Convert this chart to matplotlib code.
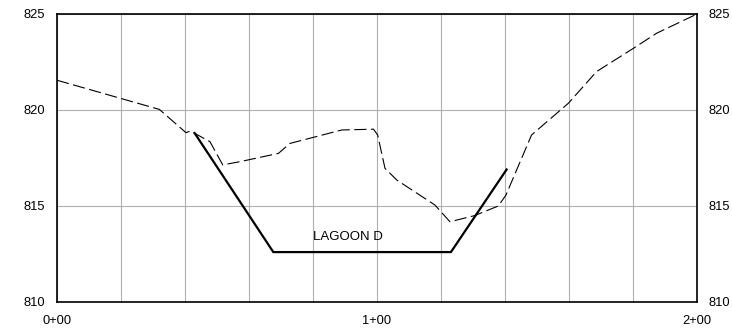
import numpy as np
import matplotlib
matplotlib.use("Agg")
import matplotlib.pyplot as plt

plt.rcParams["font.family"] = ["Liberation Sans", "DejaVu Sans"]

# Existing ground profile (station ft, elevation ft)
ground_sta = [0, 32, 40.3, 41.6, 43.2, 47.8, 51.8, 57.2, 69.2, 72.8, 89, 98.9,
              100.2, 102.5, 106.2, 118.1, 122.8, 130.5, 137.9, 140.3, 148.3,
              159.8, 168.6, 180.1, 187.4, 200]
ground_elev = [821.55, 820.03, 818.82, 818.9, 818.77, 818.35, 817.14, 817.31,
               817.74, 818.26, 818.96, 819.0, 818.7, 816.96, 816.35, 815.05,
               814.18, 814.5, 815.0, 815.57, 818.7, 820.35, 822.0, 823.21,
               824.0, 825.0]

# Lagoon section
lagoon_sta = [43.0, 67.6, 123.1, 140.5]
lagoon_elev = [818.8, 812.6, 812.6, 816.9]

x_ticks = [0, 100, 200]
x_labels = ["0+00", "1+00", "2+00"]
y_ticks = [810, 815, 820, 825]

fig = plt.figure(figsize=(7.32, 3.28), dpi=100)
ax = fig.add_axes([57 / 732, 26 / 328, 640 / 732, 288 / 328])

ax.plot(ground_sta, ground_elev, color="black", lw=0.8, dashes=(11, 4))
ax.plot(lagoon_sta, lagoon_elev, color="black", lw=1.6, solid_joinstyle="miter")
ax.text(91, 813.4, "LAGOON D", fontsize=9.5, ha="center", va="center")

ax.set_xlim(0, 200)
ax.set_ylim(810, 825)
ax.set_xticks(x_ticks)
ax.set_xticklabels(x_labels, fontsize=9.3)
ax.set_xticks(np.arange(0, 201, 20), minor=True)
ax.set_yticks(y_ticks)
ax.set_yticklabels([str(v) for v in y_ticks], fontsize=9.3)
ax.tick_params(which="both", length=0)
ax.tick_params(axis="x", pad=9)
ax.tick_params(axis="y", pad=8.5, labelright=True, right=True)
ax.grid(True, which="both", color="#b0b0b0", lw=0.8)
ax.set_axisbelow(True)
for s in ax.spines.values():
    s.set_linewidth(1.2)

fig.savefig("out.png", dpi=100)
